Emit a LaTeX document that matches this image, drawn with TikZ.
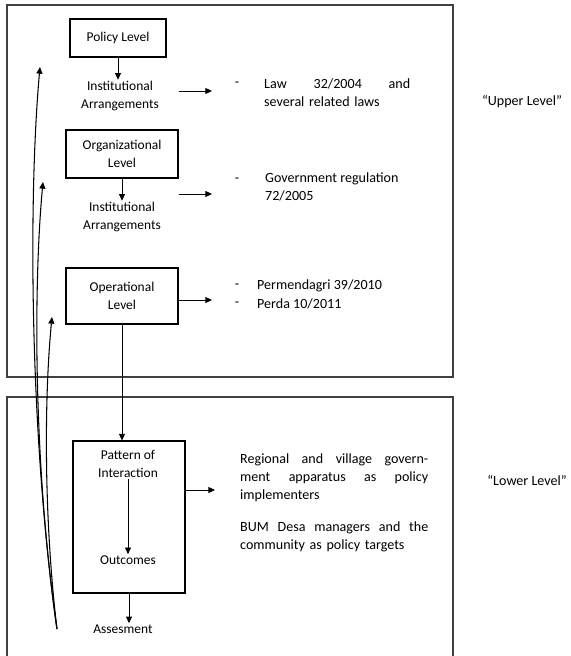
\documentclass[tikz,border=0pt]{standalone}
\usepackage{fontspec}
\setmainfont{Carlito}
\usepackage{tikz}
\usetikzlibrary{
    positioning,
    arrows.meta,
}
\newcommand{\levelfont}{\fontsize{11.5}{15.4}\selectfont}
\newcommand{\itemfont}{\fontsize{12}{15.2}\selectfont}
\tikzset{
    % Box styles
    level box/.style={rectangle, draw, line width=0.9pt, align=center,
                      font=\levelfont, inner sep=2pt},
    stage text/.style={align=center, font=\levelfont, inner sep=1pt},
    % Text styles
    note/.style={anchor=west, inner sep=0pt, align=left, font=\itemfont},
    bullet/.style={inner sep=0pt, font=\itemfont},
    tier/.style={font=\itemfont, inner sep=0pt},
    % Arrow styles
    arrow/.style={-{Triangle[length=2mm, width=1.8mm]}, line width=0.8pt},
    feedback/.style={arrow, line width=0.9pt},
    frame/.style={draw=black!75, line width=1pt},
}

\begin{document}
\begin{tikzpicture}[x=0.03cm, y=-0.03cm]
    \useasboundingbox (0,0) rectangle (570,656);

    % Upper and lower frames
    \draw[frame] (7,5) rectangle (453,377);
    \draw[frame] (7,656) -- (7,397) -- (453,397) -- (453,656);

    % Upper level: boxes and stages
    \node[level box, minimum width=2.88cm, minimum height=1.14cm] (policy) at (118,38) {Policy Level};
    \node[stage text] (inst1) at (120,96) {Institutional\\Arrangements};
    \node[level box, minimum width=3.36cm, minimum height=1.44cm] (org) at (122,154) {Organizational\\Level};
    \node[stage text] (inst2) at (122,217) {Institutional\\Arrangements};
    \node[level box, minimum width=3.36cm, minimum height=1.68cm] (oper) at (122,296) {Operational\\Level};

    % Lower level
    \node[level box, minimum width=3.36cm, minimum height=4.56cm] (interact) at (129,517) {};
    \node[stage text] (pattern) at (128,464) {Pattern of\\Interaction};
    \node[stage text] (outcomes) at (128,560) {Outcomes};
    \node[stage text] (assess) at (123,629) {Assesment};

    % Vertical flow
    \draw[arrow] (policy.south) -- (policy.south |- inst1.north);
    \draw[arrow] (org.south) -- (org.south |- inst2.north);
    \draw[arrow] (oper.south) -- (oper.south |- interact.north);
    \draw[arrow] (pattern) -- (outcomes);
    \draw[arrow] (interact.south) -- (interact.south |- assess.north);

    % Right-hand notes
    \node[bullet] (d1) at (237,84) {-};
    \node[note, text width=4.38cm] (law) at (264,93) {Law\hfill 32/2004\hfill and\\several related laws};
    \node[bullet] (d2) at (237,180) {-};
    \node[note] (gov) at (265,188)
        {\begin{tabular}{@{}l@{}}Government regulation\\72/2005\end{tabular}};
    \node[bullet] (d3) at (237,286) {-};
    \node[note] (perm) at (257,286) {Permendagri 39/2010};
    \node[bullet] (d4) at (237,304) {-};
    \node[note] (perda) at (257,304) {Perda 10/2011};
    \node[note, text width=5.64cm] (regional) at (240,478)
        {Regional\hfill and\hfill village\hfill govern-\\ment\hfill apparatus\hfill as\hfill policy\\implementers};
    \node[note, text width=5.64cm] (bum) at (240,537)
        {BUM\hfill Desa\hfill managers\hfill and\hfill the\\community as policy targets};

    % Level labels
    \node[tier] (upper) at (522,102) {“Upper Level”};
    \node[tier] (lower) at (527,480) {“Lower Level”};

    % Horizontal arrows
    \coordinate (t1) at (212,91);
    \coordinate (t2) at (212,194);
    \coordinate (t3) at (212,300);
    \coordinate (t4) at (215,490);
    \draw[arrow] (org.east |- t1) -- (t1);
    \draw[arrow] (org.east |- t2) -- (t2);
    \draw[arrow] (oper.east |- t3) -- (t3);
    \draw[arrow] (interact.east |- t4) -- (t4);

    % Feedback from assessment
    \coordinate (fb) at ([xshift=-1.05cm]assess.west);
    \coordinate (f1) at (40,67);
    \coordinate (f2) at (43,182);
    \coordinate (f3) at (52,317);
    \draw[feedback] (fb) .. controls (30,440) and (28,200) .. (f1);
    \draw[feedback] (fb) .. controls (34,470) and (33,290) .. (f2);
    \draw[feedback] (fb) .. controls (44,520) and (44,400) .. (f3);
\end{tikzpicture}
\end{document}
